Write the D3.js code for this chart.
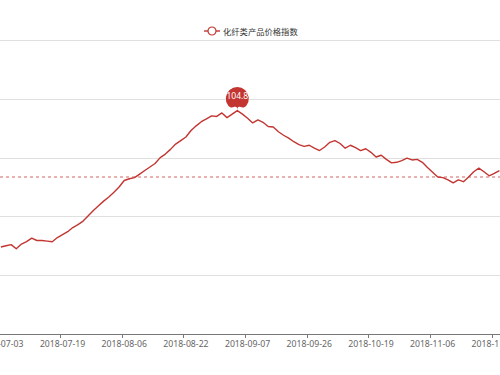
<!DOCTYPE html>
<html>
<head>
<meta charset="utf-8">
<script src="https://cdn.jsdelivr.net/npm/d3@7"></script>
<style>
  html, body { margin: 0; padding: 0; background: #fff; }
  svg { display: block; }
</style>
</head>
<body>
<script>
// trading days shown on the category axis
const dates = [
  "2018-07-03", "2018-07-04", "2018-07-05", "2018-07-06", "2018-07-09", "2018-07-10", "2018-07-11", "2018-07-12",
  "2018-07-13", "2018-07-16", "2018-07-17", "2018-07-18", "2018-07-19", "2018-07-20", "2018-07-23", "2018-07-24",
  "2018-07-25", "2018-07-26", "2018-07-27", "2018-07-30", "2018-07-31",
  "2018-08-01", "2018-08-02", "2018-08-03", "2018-08-06", "2018-08-07", "2018-08-08", "2018-08-09", "2018-08-10",
  "2018-08-13", "2018-08-14", "2018-08-15", "2018-08-16", "2018-08-17", "2018-08-20", "2018-08-21", "2018-08-22",
  "2018-08-23", "2018-08-24", "2018-08-27", "2018-08-28", "2018-08-29", "2018-08-30", "2018-08-31",
  "2018-09-03", "2018-09-04", "2018-09-05", "2018-09-06", "2018-09-07", "2018-09-10", "2018-09-11", "2018-09-12",
  "2018-09-13", "2018-09-14", "2018-09-17", "2018-09-18", "2018-09-19", "2018-09-20", "2018-09-21", "2018-09-25",
  "2018-09-26", "2018-09-27", "2018-09-28",
  "2018-10-08", "2018-10-09", "2018-10-10", "2018-10-11", "2018-10-12", "2018-10-15", "2018-10-16", "2018-10-17",
  "2018-10-18", "2018-10-19", "2018-10-22", "2018-10-23", "2018-10-24", "2018-10-25", "2018-10-26", "2018-10-29",
  "2018-10-30", "2018-10-31",
  "2018-11-01", "2018-11-02", "2018-11-05", "2018-11-06", "2018-11-07", "2018-11-08", "2018-11-09", "2018-11-12",
  "2018-11-13", "2018-11-14", "2018-11-15", "2018-11-16", "2018-11-19", "2018-11-20", "2018-11-21", "2018-11-22",
  "2018-11-23"
]

// 化纤类产品价格指数
const indexValues = [
  102.48, 102.50, 102.52, 102.45, 102.53, 102.57, 102.63, 102.59, 102.59, 102.58,
  102.57, 102.64, 102.69, 102.74, 102.81, 102.86, 102.92, 103.01, 103.10, 103.18,
  103.26, 103.33, 103.41, 103.50, 103.61, 103.64, 103.66, 103.72, 103.78, 103.84,
  103.90, 104.00, 104.06, 104.14, 104.23, 104.29, 104.35, 104.46, 104.54, 104.61,
  104.66, 104.71, 104.70, 104.76, 104.68, 104.74, 104.80, 104.74, 104.67, 104.59,
  104.64, 104.60, 104.53, 104.52, 104.44, 104.38, 104.33, 104.27, 104.22, 104.19,
  104.21, 104.16, 104.12, 104.18, 104.26, 104.29, 104.24, 104.16, 104.21, 104.17,
  104.12, 104.15, 104.09, 104.01, 104.04, 103.97, 103.91, 103.92, 103.95, 103.99,
  103.96, 103.97, 103.92, 103.83, 103.75, 103.67, 103.66, 103.62, 103.57, 103.62,
  103.59, 103.67, 103.76, 103.82, 103.76, 103.69, 103.73, 103.78
]

const seriesName = "化纤类产品价格指数"
const averageValue = 103.67      // dashed average line
const yTicks = [101, 102, 103, 104, 105, 106]
const labelEvery = 12

const width = 500, height = 375
const red = "#c23531"

const svg = d3.select("body").append("svg")
    .attr("width", width)
    .attr("height", height)

// the plot is cropped on both sides, so the band range runs past the edges
const x = d3.scaleBand()
    .domain(dates)
    .range([-1.7, 502])
    .paddingInner(0)
    .paddingOuter(0)

const y = d3.scaleLinear()
    .domain([101, 106])
    .range([334, 40])

const xc = d => x(d) + x.bandwidth() / 2

// grid
svg.append("g")
    .selectAll("line")
    .data(yTicks.slice(1))
    .join("line")
    .attr("x1", 0)
    .attr("x2", width)
    .attr("y1", d => Math.round(y(d)) + 0.5)
    .attr("y2", d => Math.round(y(d)) + 0.5)
    .attr("stroke", "#e0e0e0")
    .attr("stroke-width", 1)

// x axis: labels at band centres, ticks on band boundaries
const shown = dates.filter((d, i) => i % labelEvery === 0)
const axisY = Math.round(y(yTicks[0])) + 0.5

const xAxis = svg.append("g")
    .attr("transform", `translate(0,${axisY})`)
    .call(d3.axisBottom(x).tickValues(shown).tickSize(0).tickPadding(6))
xAxis.select(".domain").remove()
xAxis.selectAll("text")
    .attr("fill", "#666")
    .style("font", "8.7px 'Noto Sans', 'Open Sans', sans-serif")

svg.append("line")
    .attr("x1", 0).attr("x2", width)
    .attr("y1", axisY).attr("y2", axisY)
    .attr("stroke", "#777")
    .attr("stroke-width", 1)

svg.append("g")
    .selectAll("line")
    .data(shown)
    .join("line")
    .attr("x1", d => Math.round(x(d)) + 0.5)
    .attr("x2", d => Math.round(x(d)) + 0.5)
    .attr("y1", axisY)
    .attr("y2", axisY + 3.5)
    .attr("stroke", "#777")

// average line
svg.append("line")
    .attr("x1", 0).attr("x2", width)
    .attr("y1", y(averageValue)).attr("y2", y(averageValue))
    .attr("stroke", red)
    .attr("stroke-opacity", 0.85)
    .attr("stroke-width", 0.9)
    .attr("stroke-dasharray", "3,3")

// series line
const line = d3.line()
    .x((d, i) => xc(dates[i]))
    .y(d => y(d))

svg.append("path")
    .datum(indexValues)
    .attr("fill", "none")
    .attr("stroke", red)
    .attr("stroke-width", 1.4)
    .attr("stroke-linejoin", "round")
    .attr("d", line)

// max pin (echarts-style)
function pinPath(px, py, w, h) {
    const r = w / 2
    const dy = r * r / (h - r)
    const cy = py - h + r + dy
    const angle = Math.asin(dy / r)
    const dx = Math.cos(angle) * r
    const tanX = Math.sin(angle), tanY = Math.cos(angle)
    const cpLen = r * 0.6, cpLen2 = r * 0.7
    const p = d3.path()
    p.moveTo(px - dx, cy + dy)
    p.arc(px, cy, r, Math.PI - angle, Math.PI * 2 + angle)
    p.bezierCurveTo(px + dx - tanX * cpLen, cy + dy + tanY * cpLen, px, py - cpLen2, px, py)
    p.bezierCurveTo(px, py - cpLen2, px - dx + tanX * cpLen, cy + dy + tanY * cpLen, px - dx, cy + dy)
    p.closePath()
    return p.toString()
}

const maxIdx = d3.maxIndex(indexValues)
const maxX = xc(dates[maxIdx]), maxY = y(indexValues[maxIdx])
const pinW = 23, pinH = 30.5

svg.append("path")
    .attr("d", pinPath(maxX, maxY, pinW, pinH))
    .attr("fill", red)

svg.append("text")
    .attr("x", maxX)
    .attr("y", maxY - pinH / 2)
    .attr("text-anchor", "middle")
    .attr("dominant-baseline", "central")
    .attr("fill", "#fff")
    .style("font", "8.5px 'Noto Sans', 'Open Sans', sans-serif")
    .text(d3.format(".1f")(indexValues[maxIdx]))

// legend
const legend = svg.append("g").attr("transform", "translate(212,31)")
legend.append("line")
    .attr("x1", -8).attr("x2", 8)
    .attr("stroke", red)
    .attr("stroke-width", 1.4)
legend.append("circle")
    .attr("r", 4)
    .attr("fill", "#fff")
    .attr("stroke", red)
    .attr("stroke-width", 1.2)
legend.append("text")
    .attr("x", 11)
    .attr("dominant-baseline", "central")
    .attr("fill", "#333")
    .style("font", "8.3px 'Noto Sans CJK SC', sans-serif")
    .text(seriesName)
</script>
</body>
</html>
